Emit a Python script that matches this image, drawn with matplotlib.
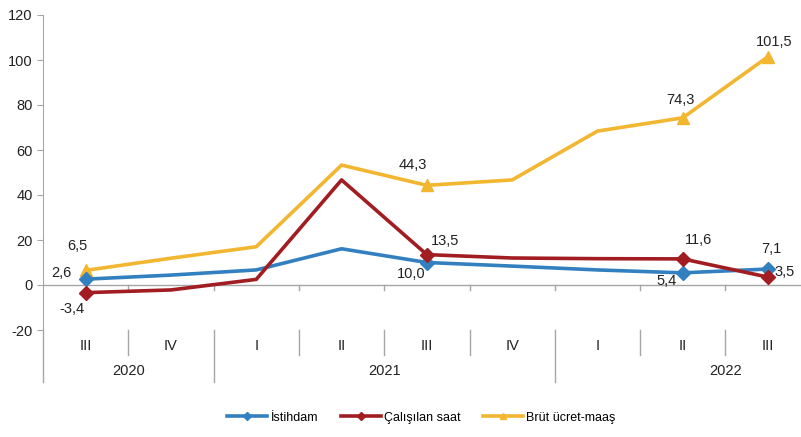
import matplotlib
matplotlib.use('Agg')
import matplotlib.pyplot as plt

plt.rcParams['font.family'] = ['Liberation Sans', 'DejaVu Sans']
plt.rcParams['axes.unicode_minus'] = False

quarters = ['III', 'IV', 'I', 'II', 'III', 'IV', 'I', 'II', 'III']
years = ['2020', '2021', '2022']
year_spans = [(0, 2), (2, 6), (6, 9)]  # quarter index ranges per year

istihdam = [2.6, 4.4, 6.7, 16.1, 10.0, 8.4, 6.7, 5.4, 7.1]
calisilan = [-3.4, -2.2, 2.5, 46.7, 13.5, 12.0, 11.7, 11.6, 3.5]
brut = [6.5, 11.9, 17.0, 53.3, 44.3, 46.7, 68.4, 74.3, 101.5]

labeled = [0, 4, 7, 8]

c_ist = '#3380C0'
c_cal = '#A21D22'
c_brut = '#F2B630'
grey = '#A6A6A6'
txt = '#222222'

fig = plt.figure(figsize=(8.01, 4.37), dpi=100)
ax = fig.add_axes([43 / 801, 107 / 437, 758 / 801, 315 / 437])

x = list(range(len(quarters)))
ax.plot(x, istihdam, color=c_ist, lw=2.6, marker='D', ms=7, markevery=labeled,
        label='İstihdam', zorder=4)
ax.plot(x, calisilan, color=c_cal, lw=2.6, marker='D', ms=7, markevery=labeled,
        label='Çalışılan saat', zorder=5)
ax.plot(x, brut, color=c_brut, lw=2.6, marker='^', ms=9, markevery=labeled,
        label='Brüt ücret-maaş', zorder=3)

step = 85.3
ax.set_xlim(-0.5, -0.5 + 758 / step)
ax.set_ylim(-20, 120)
ax.set_yticks(range(-20, 121, 20))
ax.set_xticks([])
for s in ['top', 'right', 'bottom']:
    ax.spines[s].set_visible(False)
ax.spines['left'].set_color(grey)
ax.tick_params(axis='y', colors=grey, length=4, labelcolor=txt, labelsize=10.5)
ax.axhline(0, color=grey, lw=1, zorder=1)


def fmt(v):
    return f'{v:.1f}'.replace('.', ',')


# data labels: (series, index, dx px, dy px, ha)
label_spec = [
    (brut, 0, -8, 24, 'center'), (istihdam, 0, -14, 6, 'right'),
    (calisilan, 0, -14, -16, 'center'),
    (brut, 4, -14, 20, 'center'), (calisilan, 4, 18, 14, 'center'),
    (istihdam, 4, -16, -12, 'center'),
    (brut, 7, -2, 18, 'center'), (calisilan, 7, 16, 19, 'center'),
    (istihdam, 7, -16, -8, 'center'),
    (brut, 8, 6, 15, 'center'), (istihdam, 8, 3, 20, 'center'),
    (calisilan, 8, 6, 5, 'left'),
]
for series, i, dx, dy, ha in label_spec:
    ax.annotate(fmt(series[i]), (i, series[i]), xytext=(dx, dy),
                textcoords='offset pixels', ha=ha, va='center',
                fontsize=10.5, color=txt, zorder=6)

trans = ax.get_xaxis_transform()
# small ticks on zero line
for b in range(1, 9):
    ax.plot([b - 0.5, b - 0.5], [0, -2.2], color=grey, lw=1, clip_on=False)

# multi-level category axis below the plot
ax.plot([-0.5, -0.5], [0, -0.165], transform=trans, color=grey, lw=1,
        clip_on=False)
for b in range(1, 9):
    y_end = -0.165 if b in (2, 6) else -0.08
    ax.plot([b - 0.5, b - 0.5], [0, y_end], transform=trans, color=grey,
            lw=1, clip_on=False)

for i, q in enumerate(quarters):
    ax.text(i, -0.05, q, transform=trans, ha='center', va='center',
            fontsize=10.5, color=txt)
for yr, (a, b) in zip(years, year_spans):
    if b == 9:
        b = 10  # last year group runs past the image edge
    ax.text((a + b - 1) / 2, -0.13, yr, transform=trans, ha='center',
            va='center', fontsize=10.5, color=txt)

fig.legend(loc='center', bbox_to_anchor=(0.526, 0.044), ncol=3, frameon=False,
           fontsize=9, handlelength=3.2, columnspacing=1.8, handletextpad=0.25,
           markerscale=0.55)
plt.savefig('out.png', dpi=100)
